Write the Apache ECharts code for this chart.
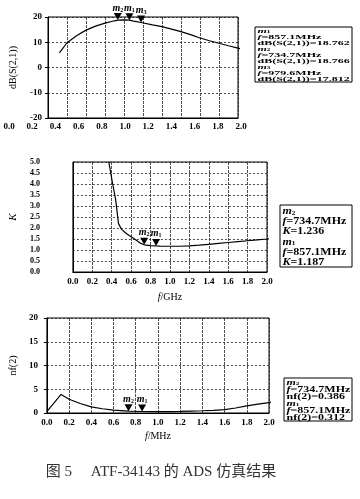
<!DOCTYPE html>
<html>
<head>
<meta charset="utf-8">
<script src="https://cdn.jsdelivr.net/npm/echarts@6/dist/echarts.min.js"></script>
<style>html,body{margin:0;padding:0;background:#fff;}#c{width:360px;height:499px;}</style>
</head>
<body>
<div id="c"></div>
<script>
// ---- data ----
const s21Freq = [0.12, 0.2, 0.3, 0.4, 0.5, 0.6, 0.7, 0.7347, 0.8, 0.8571, 0.9, 0.9796, 1.0, 1.1, 1.2, 1.3, 1.4, 1.5, 1.6, 1.7, 1.8, 1.9, 2.0, 2.06];
const s21Gain = [5.8, 9.8, 12.6, 14.8, 16.4, 17.6, 18.5, 18.766, 18.9, 18.762, 18.4, 17.812, 17.65, 16.9, 16.2, 15.2, 14.2, 13.0, 11.7, 10.6, 9.6, 8.6, 7.7, 7.1];
const s21MarkNames = ['m2', 'm1', 'm3'];
const s21MarkFreq = [0.7347, 0.8571, 0.9796];
const s21MarkVal = [18.766, 18.762, 17.812];
const s21BoxOrder = [1, 0, 2];

const kFreq = [0.37, 0.39, 0.41, 0.44, 0.47, 0.5, 0.55, 0.6, 0.65, 0.7, 0.7347, 0.8, 0.8571, 0.9, 1.0, 1.1, 1.2, 1.3, 1.4, 1.5, 1.6, 1.7, 1.8, 1.9, 2.0, 2.09];
const kVal = [5.0, 4.5, 4.0, 3.3, 2.2, 1.95, 1.75, 1.6, 1.45, 1.3, 1.236, 1.2, 1.187, 1.18, 1.17, 1.17, 1.19, 1.22, 1.26, 1.3, 1.34, 1.38, 1.42, 1.46, 1.5, 1.54];
const kMarkNames = ['m2', 'm1'];
const kMarkFreq = [0.7347, 0.8571];
const kMarkVal = [1.236, 1.187];
const kBoxOrder = [0, 1];

const nfFreq = [0.0, 0.127, 0.2, 0.3, 0.4, 0.5, 0.6, 0.7347, 0.8571, 1.0, 1.1, 1.2, 1.3, 1.4, 1.5, 1.6, 1.7, 1.8, 1.9, 2.0, 2.06];
const nfVal = [0.3, 3.9, 2.9, 2.0, 1.3, 0.9, 0.6, 0.386, 0.312, 0.28, 0.3, 0.34, 0.4, 0.47, 0.55, 0.7, 1.05, 1.5, 1.85, 2.2, 2.45];
const nfMarkNames = ['m2', 'm1'];
const nfMarkFreq = [0.7347, 0.8571];
const nfMarkVal = [0.386, 0.312];
const nfBoxOrder = [0, 1];

const caption = '图 5　 ATF-34143 的 ADS 仿真结果';

// ---- helpers ----
const SERIF = 'Liberation Serif';
const pairs = (xs, ys) => xs.map((x, i) => [x, ys[i]]);
const mRich = {
  i: {fontFamily: SERIF, fontStyle: 'italic', fontWeight: 'bold', fontSize: 10, color: '#000'},
  s: {fontFamily: SERIF, fontWeight: 'bold', fontSize: 6, color: '#000', verticalAlign: 'bottom', padding: [4, 0, 0, 0]}
};
function markLabel(name) { return '{i|m}{s|' + name.slice(1) + '}'; }
function markPoint(names, fs, vs) {
  return {
    symbol: 'triangle', symbolRotate: 180, symbolSize: [8, 7], symbolOffset: [0, -3.5],
    itemStyle: {color: '#000'},
    label: {show: true, position: 'top', distance: 0, formatter: p => markLabel(p.name), rich: mRich},
    data: names.map((n, i) => ({name: n, coord: [fs[i], vs[i]]}))
  };
}
const vSplit = {show: true, lineStyle: {color: '#222', width: 0.8, type: [3, 1]}};
const hSplit = {show: true, lineStyle: {color: '#222', width: 0.8, type: [2, 2]}};
const tickFont = {fontFamily: SERIF, fontWeight: 'bold', fontSize: 9, color: '#000'};
const fmt1 = v => v.toFixed(1);
const axLine = {onZero: false, lineStyle: {color: '#000'}};

function lineSeries(xi, xs, ys, mk) {
  return {
    type: 'line', xAxisIndex: xi, yAxisIndex: xi, data: pairs(xs, ys),
    symbol: 'none', clip: false, lineStyle: {color: '#000', width: 1.2},
    markPoint: mk, animation: false
  };
}

// legend box text builders
function boxText(order, names, fs, label, vs, fmtV) {
  const lines = [];
  order.forEach(i => {
    lines.push('{i|m}{s|' + names[i].slice(1) + '}');
    lines.push('{fi|f}{t|=' + (fs[i] * 1000).toFixed(1) + 'MHz}');
    lines.push(label + '{t|=' + fmtV(vs[i]) + '}');
  });
  return lines.join('\n');
}
function boxRich(fs, lh) {
  return {
    t: {fontFamily: SERIF, fontWeight: 'bold', fontSize: fs, lineHeight: lh, fill: '#000'},
    fi: {fontFamily: SERIF, fontStyle: 'italic', fontWeight: 'bold', fontSize: fs, lineHeight: lh, fill: '#000'},
    i: {fontFamily: SERIF, fontStyle: 'italic', fontWeight: 'bold', fontSize: fs, lineHeight: lh, fill: '#000'},
    s: {fontFamily: SERIF, fontWeight: 'bold', fontSize: fs * 0.6, lineHeight: lh, fill: '#000', verticalAlign: 'bottom'}
  };
}
function box(x, y, w, h, text, fs, lh, sy) {
  return {
    type: 'group', x: x, y: y, children: [
      {type: 'rect', shape: {x: 0, y: 0, width: w, height: h}, style: {fill: '#fff', stroke: '#000', lineWidth: 1}},
      {type: 'text', x: 2.5, y: 1, scaleY: sy, style: {text: text, rich: boxRich(fs, lh), fontFamily: SERIF, fontWeight: 'bold', fontSize: fs, lineHeight: lh, fill: '#000'}}
    ]
  };
}

const chart = echarts.init(document.getElementById('c'), null, {renderer: 'canvas'});
const nameRich = {rich: {i: {fontFamily: SERIF, fontStyle: 'italic', fontSize: 10, color: '#000'}, n: {fontFamily: SERIF, fontSize: 10, color: '#000'}}};
const option = {
  animation: false,
  backgroundColor: '#fff',
  grid: [
    {left: 48, top: 17, width: 190, height: 101, show: true, borderColor: '#000', borderWidth: 1},
    {left: 50, top: 162, width: 217, height: 110, show: true, borderColor: '#000', borderWidth: 1},
    {left: 43, top: 318, width: 226, height: 95, show: true, borderColor: '#000', borderWidth: 1},
    {left: 9, top: 17, width: 232, height: 101, show: false}
  ],
  xAxis: [
    {gridIndex: 0, type: 'value', min: 0, max: 2, interval: 0.2, axisLabel: {show: false}, axisTick: {show: false},
     axisLine: axLine, splitLine: vSplit},
    {gridIndex: 1, type: 'value', min: 0, max: 2, interval: 0.2, axisLabel: Object.assign({formatter: fmt1, margin: 5}, tickFont),
     axisTick: {show: false}, axisLine: axLine, splitLine: vSplit,
     name: '{i|f}{n|/GHz}', nameLocation: 'middle', nameGap: 20, nameTextStyle: nameRich},
    {gridIndex: 2, type: 'value', min: 0, max: 2, interval: 0.2, axisLabel: Object.assign({formatter: fmt1, margin: 5}, tickFont),
     axisTick: {show: false}, axisLine: axLine, splitLine: vSplit,
     name: '{i|f}{n|/MHz}', nameLocation: 'middle', nameGap: 18, nameTextStyle: nameRich},
    {gridIndex: 3, type: 'value', min: 0, max: 2, interval: 0.2, axisLine: {show: false, onZero: false}, axisTick: {show: false},
     splitLine: {show: false}, axisLabel: Object.assign({formatter: fmt1, margin: 4}, tickFont)}
  ],
  yAxis: [
    {gridIndex: 0, type: 'value', min: -20, max: 20, interval: 10, axisLabel: Object.assign({margin: 6}, tickFont),
     axisTick: {show: true, length: 3, lineStyle: {color: '#000'}}, axisLine: axLine, splitLine: hSplit,
     name: 'dB(S(2,1))', nameLocation: 'middle', nameGap: 30, nameRotate: 90,
     nameTextStyle: {fontFamily: SERIF, fontSize: 10, color: '#000'}},
    {gridIndex: 1, type: 'value', min: 0, max: 5, interval: 0.5, axisLabel: Object.assign({margin: 33, formatter: fmt1}, tickFont, {fontSize: 8}),
     axisTick: {show: false}, axisLine: axLine, splitLine: hSplit,
     name: 'K', nameLocation: 'middle', nameGap: 30, nameRotate: 90,
     nameTextStyle: {fontFamily: SERIF, fontStyle: 'italic', fontSize: 11, color: '#000'}},
    {gridIndex: 2, type: 'value', min: 0, max: 20, interval: 5, axisLabel: Object.assign({margin: 9}, tickFont),
     axisTick: {show: true, length: 3, lineStyle: {color: '#000'}}, axisLine: axLine, splitLine: hSplit,
     name: 'nf(2)', nameLocation: 'middle', nameGap: 22, nameRotate: 90,
     nameTextStyle: {fontFamily: SERIF, fontSize: 10, color: '#000'}},
    {gridIndex: 3, type: 'value', min: 0, max: 1, show: false}
  ],
  series: [
    lineSeries(0, s21Freq, s21Gain, markPoint(s21MarkNames, s21MarkFreq, s21MarkVal)),
    lineSeries(1, kFreq, kVal, markPoint(kMarkNames, kMarkFreq, kMarkVal)),
    lineSeries(2, nfFreq, nfVal, markPoint(nfMarkNames, nfMarkFreq, nfMarkVal))
  ],
  graphic: [
    box(255, 27, 97, 55, boxText(s21BoxOrder, s21MarkNames, s21MarkFreq, '{t|dB(S(2,1))}', s21MarkVal, v => v.toFixed(3)), 12, 12, 0.5),
    box(280, 205, 72, 62, boxText(kBoxOrder, kMarkNames, kMarkFreq, '{fi|K}', kMarkVal, v => v.toFixed(3)), 12, 11, 0.93),
    box(284, 378, 68, 43, boxText(nfBoxOrder, nfMarkNames, nfMarkFreq, '{t|nf(2)}', nfMarkVal, v => v.toFixed(3)), 12, 11, 0.64),
    {type: 'text', x: 161, y: 472, style: {text: caption, textAlign: 'center', textVerticalAlign: 'middle',
      fontFamily: 'Liberation Serif, "Noto Sans CJK SC"', fontSize: 15, fill: '#333'}}
  ]
};
chart.setOption(option);
</script>
</body>
</html>
